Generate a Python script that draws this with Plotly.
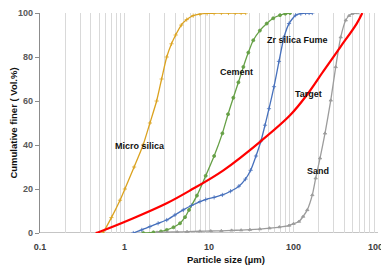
import plotly.graph_objects as go
import math

# ---- data ----
micro_x = [0.557, 0.70, 0.885, 1.01, 1.30, 1.66, 2.0, 2.40, 2.75, 3.16, 3.6, 4.03, 4.7, 5.45, 6.5, 7.8, 9.5, 11.5, 14, 17, 20.5, 24, 27.2]
micro_y = [0, 7, 14.9, 20, 30, 40, 50, 60, 70, 80, 86, 90, 94.5, 97, 98.8, 99.5, 99.8, 99.9, 100, 100, 100, 100, 100]

cement_x = [1.67, 2.2, 2.7, 3.16, 3.8, 4.54, 5.2, 5.80, 7.2, 9.14, 11.5, 14.4, 16.8, 19.4, 22.3, 25.5, 29.2, 33.4, 40, 48.2, 57.5, 69.2, 80, 91.0]
cement_y = [0, 0.3, 0.7, 1.4, 2.6, 4.4, 7.2, 10.5, 17, 26, 35, 45.3, 54, 61.5, 68.5, 75.5, 82, 87.6, 92, 95.2, 97.6, 99, 99.7, 100]

zr_x = [1.27, 1.6, 2.0, 2.5, 3.16, 3.95, 4.96, 6.2, 7.82, 9.14, 11.5, 14.4, 18, 22.6, 27, 31.1, 36, 41.2, 46, 51.3, 58.8, 67.3, 77.2, 88.5, 106, 122, 139, 153, 167]
zr_y = [0, 1.4, 2.9, 4.4, 5.9, 8.2, 10.5, 12.5, 14.3, 15.2, 16.2, 17.3, 19, 21.3, 24.5, 28.5, 35, 41.8, 49, 56.5, 66.5, 78, 89, 95.2, 99, 99.7, 100, 100, 100]

sand_x = [2.43, 3.2, 4.2, 5.5, 7.8, 10.5, 14, 18.5, 24, 30.5, 40, 52, 68, 88.5, 100, 116, 130, 145.6, 167, 183, 206, 236, 276, 316, 362, 415, 455, 497, 569]
sand_y = [0.3, 0.4, 0.5, 0.6, 0.8, 0.9, 1.0, 1.2, 1.3, 1.5, 1.8, 2.2, 2.7, 3.4, 4.2, 5.2, 7.5, 10.5, 17.3, 24.9, 34, 45.3, 60.3, 75.5, 89, 96.7, 98.8, 99.7, 100]

target_x = [0.456, 0.51, 1.27, 3.16, 5.96, 14.8, 41.2, 91.0, 143, 225, 355, 560, 652]
target_y = [0, 0.6, 6.7, 13.5, 19.3, 28.5, 41.8, 53.5, 62.6, 73.5, 84.3, 95.2, 100]

x_tickvals = [0.1, 1, 10, 100, 1000]
x_ticktext = ["0.1", "1", "10", "100", "1000"]
y_tickvals = [0, 20, 40, 60, 80, 100]

labels = ["Micro silica", "Cement", "Zr silica Fume", "Target", "Sand"]
label_x = [1.52, 21.4, 111, 152, 195]
label_y = [39.4, 73.0, 87.6, 63.4, 28.2]

FONT = "Liberation Sans, Arial, sans-serif"

fig = go.Figure()

def add_series(x, y, color, symbol, name):
    fig.add_trace(go.Scatter(
        x=x, y=y, mode="lines+markers", name=name,
        line=dict(color=color, width=1.3, shape="spline", smoothing=0.6),
        marker=dict(symbol=symbol, size=3, color=color, line=dict(color=color, width=0.8)),
    ))

add_series(micro_x, micro_y, "#DBA21F", "cross-thin-open", "Micro silica")
add_series(cement_x, cement_y, "#66A046", "circle", "Cement")
add_series(zr_x, zr_y, "#4670BC", "cross-thin-open", "Zr silica Fume")
add_series(sand_x, sand_y, "#9C9C9C", "triangle-up", "Sand")

fig.add_trace(go.Scatter(
    x=target_x, y=target_y, mode="lines", name="Target",
    line=dict(color="#FF0000", width=2.2, shape="spline", smoothing=1.0),
))

for t, lx, ly in zip(labels, label_x, label_y):
    fig.add_annotation(x=math.log10(lx), y=ly, text="<b>%s</b>" % t, showarrow=False,
                       font=dict(family=FONT, size=9, color="#111111"))

fig.add_annotation(xref="paper", yref="paper", x=0.55, y=-0.12, yanchor="middle",
                   text="<b>Particle size (µm)</b>", showarrow=False,
                   font=dict(family=FONT, size=9.5, color="#111111"))

# the page body has an 8px margin, so the figure is drawn 8px right/down
fig.update_layout(
    width=381, height=258,
    margin=dict(l=32, r=11, t=5, b=33, autoexpand=False),
    paper_bgcolor="white", plot_bgcolor="white",
    showlegend=False,
    font=dict(family=FONT, size=9, color="#595959"),
)

fig.update_xaxes(
    type="log", range=[-1, 3], automargin=False,
    tickvals=x_tickvals, ticktext=["<b>%s</b>" % t for t in x_ticktext],
    tickfont=dict(size=9, color="#404040", family=FONT),
    showgrid=True, gridcolor="#D9D9D9", gridwidth=1,
    minor=dict(dtick="D1", showgrid=True, gridcolor="#D9D9D9", gridwidth=1, ticks=""),
    showline=False, zeroline=False, ticks="", ticklabelstandoff=7,
)

fig.update_yaxes(
    range=[0, 100], automargin=False, tickvals=y_tickvals,
    ticktext=["<b>%d</b>" % v for v in y_tickvals],
    tickfont=dict(size=9, color="#595959", family=FONT),
    showgrid=False, zeroline=False,
    showline=True, linecolor="#8C8C8C", linewidth=1.2,
    ticks="outside", ticklen=4, tickcolor="#8C8C8C",
    title=dict(text="<b>Cumulative finer ( Vol.%)</b>", standoff=2,
               font=dict(size=9.5, color="#111111", family=FONT)),
)

# x axis baseline at y=0
fig.add_shape(type="line", xref="paper", yref="y", x0=0, x1=1, y0=0, y1=0,
              line=dict(color="#8C8C8C", width=1.2), layer="below")

fig.write_html("out.html")
